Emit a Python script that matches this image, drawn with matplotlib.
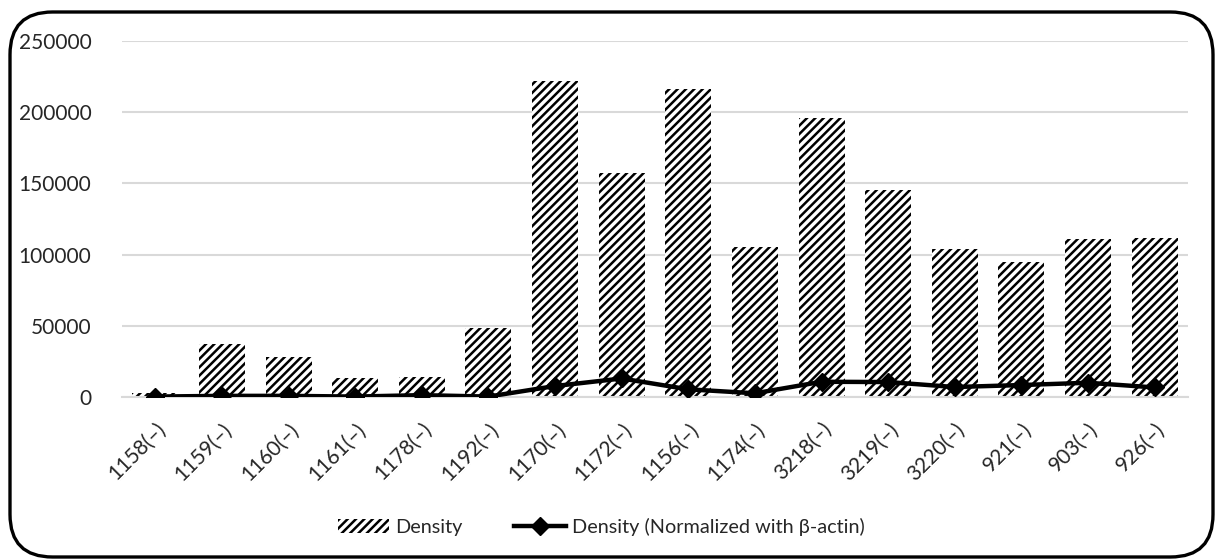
import numpy as np
import matplotlib.pyplot as plt
from matplotlib.patches import FancyBboxPatch

# sample names on the x axis
samples = ['1158(–)', '1159(–)', '1160(–)', '1161(–)', '1178(–)', '1192(–)', '1170(–)', '1172(–)',
           '1156(–)', '1174(–)', '3218(–)', '3219(–)', '3220(–)', '921(–)', '903(–)', '926(–)']

# band density (bars)
density = [3000, 37200, 28100, 13300, 14000, 48500, 222000, 157100,
           216500, 105500, 196000, 145400, 104100, 95000, 110700, 111900]

# density normalized with beta-actin (line)
density_norm = [300, 800, 800, 300, 1300, 300, 7700, 13000,
                5400, 2600, 10700, 10500, 7000, 8400, 10000, 6700]

plt.rcParams['font.family'] = ['Lato', 'DejaVu Sans']
plt.rcParams['hatch.linewidth'] = 1.8
text_col = '#262626'

fig = plt.figure(figsize=(12.17, 5.6), dpi=100)
ax = fig.add_axes([122/1217, 1-397/560, (1188-122)/1217, (397-41)/560])

x = np.arange(len(samples))
bars = ax.bar(x, density, width=0.69, color='white', edgecolor='black', linewidth=0,
              hatch='////', label='Density', zorder=2)
line, = ax.plot(x, density_norm, color='black', linewidth=3.2, marker='D', markersize=9,
                label='Density (Normalized with β-actin)', zorder=3)

ax.set_xlim(-0.5, len(samples) - 0.5)
ax.set_ylim(0, 250000)
ax.set_yticks(range(0, 250001, 50000))
ax.yaxis.grid(True, color='#d9d9d9', linewidth=1.5, zorder=0)
ax.set_axisbelow(True)

for side in ['top', 'right', 'left']:
    ax.spines[side].set_visible(False)
ax.spines['bottom'].set_color('#d9d9d9')
ax.spines['bottom'].set_linewidth(1.5)

ax.set_xticks(x)
ax.set_xticklabels(samples, rotation=45, ha='right', rotation_mode='anchor')
ax.tick_params(axis='both', length=0, labelsize=15, colors=text_col)
ax.tick_params(axis='x', pad=16)
ax.tick_params(axis='y', pad=22)

fig.legend([bars, line], ['Density', 'Density (Normalized with β-actin)'],
           loc='center', bbox_to_anchor=(0.494, 1 - 527/560), ncol=2, frameon=False,
           fontsize=14.3, handlelength=2.6, columnspacing=2.6, handletextpad=0.3,
           labelcolor=text_col)

# rounded chart border
border = FancyBboxPatch((10/1217, 3/560), 1203/1217, 545/560,
                        boxstyle='round,pad=0,rounding_size=0.035',
                        transform=fig.transFigure, facecolor='none',
                        edgecolor='black', linewidth=2.4, mutation_aspect=1217/560)
fig.patches.append(border)

fig.savefig('out.png', dpi=100)
